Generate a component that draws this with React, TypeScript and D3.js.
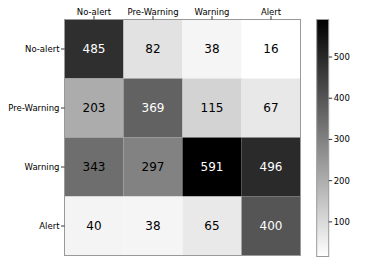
import React from "react";
import * as d3 from "d3";

const labels = ["No-alert", "Pre-Warning", "Warning", "Alert"];
const matrix = [
  [485, 82, 38, 16],
  [203, 369, 115, 67],
  [343, 297, 591, 496],
  [40, 38, 65, 400],
];
const cbTicks = [100, 200, 300, 400, 500];

export default function App() {
  const W = 374, H = 264;
  const left = 64.5, top = 19.5, size = 236;
  const flat = matrix.flat();
  const vmin = d3.min(flat)!, vmax = d3.max(flat)!;
  const x = d3.scaleBand<string>().domain(labels).range([left, left + size]);
  const y = d3.scaleBand<string>().domain(labels).range([top, top + size]);
  const color = (v: number) => {
    const g = Math.round(255 * (1 - (v - vmin) / (vmax - vmin)));
    return `rgb(${g},${g},${g})`;
  };
  const cbX = 316.7, cbW = 12, cbTop = 19.5, cbBot = 256.5;
  const cy = d3.scaleLinear().domain([vmin, vmax]).range([cbBot, cbTop]);
  const font = "DejaVu Sans, sans-serif";
  const thresh = vmax * 0.6;
  return (
    <svg width={W} height={H} style={{ position: "absolute", left: 0, top: 0, background: "#fff" }}>
      <defs>
        <linearGradient id="cb" x1="0" y1="1" x2="0" y2="0">
          <stop offset="0" stopColor="#fff" />
          <stop offset="1" stopColor="#000" />
        </linearGradient>
      </defs>
      {matrix.map((row, i) =>
        row.map((v, j) => (
          <g key={`${i}-${j}`}>
            <rect x={x(labels[j])!} y={y(labels[i])!} width={x.bandwidth()} height={y.bandwidth()} fill={color(v)} />
            <text
              x={x(labels[j])! + x.bandwidth() / 2}
              y={y(labels[i])! + y.bandwidth() / 2}
              textAnchor="middle"
              dominantBaseline="central"
              fontFamily={font}
              fontSize={12}
              fill={v > thresh ? "#fff" : "#000"}
            >
              {v}
            </text>
          </g>
        ))
      )}
      <rect x={left} y={top} width={size} height={size} fill="none" stroke="#999" strokeWidth={1} />
      {labels.map((l) => (
        <g key={"x" + l}>
          <line x1={x(l)! + x.bandwidth() / 2} x2={x(l)! + x.bandwidth() / 2} y1={top} y2={top - 3.5} stroke="#000" strokeWidth={0.8} />
          <text x={x(l)! + x.bandwidth() / 2} y={14.5} textAnchor="middle" fontFamily={font} fontSize={8.5} fill="#000">
            {l}
          </text>
        </g>
      ))}
      {labels.map((l) => (
        <g key={"y" + l}>
          <line x1={left} x2={left - 3.5} y1={y(l)! + y.bandwidth() / 2} y2={y(l)! + y.bandwidth() / 2} stroke="#000" strokeWidth={0.8} />
          <text x={left - 5} y={y(l)! + y.bandwidth() / 2} textAnchor="end" dominantBaseline="central" fontFamily={font} fontSize={8.5} fill="#000">
            {l}
          </text>
        </g>
      ))}
      <rect x={cbX} y={cbTop} width={cbW} height={cbBot - cbTop} fill="url(#cb)" stroke="#999" strokeWidth={1} />
      {cbTicks.map((t) => (
        <g key={"c" + t}>
          <line x1={cbX + cbW} x2={cbX + cbW + 3.5} y1={cy(t)} y2={cy(t)} stroke="#000" strokeWidth={0.8} />
          <text x={cbX + cbW + 5} y={cy(t)} dominantBaseline="central" fontFamily={font} fontSize={8.5} fill="#000">
            {t}
          </text>
        </g>
      ))}
    </svg>
  );
}
